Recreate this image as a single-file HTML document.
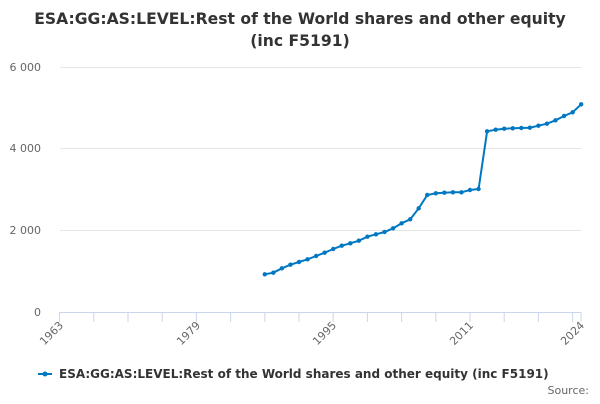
<!DOCTYPE html>
<html><head><meta charset="utf-8"><style>
body{margin:0;background:#fff;font-family:"DejaVu Sans","Liberation Sans",sans-serif;}
</style></head><body>
<svg width="600" height="400" xmlns="http://www.w3.org/2000/svg" font-family="DejaVu Sans, Liberation Sans, sans-serif">
<text x="300" y="24" text-anchor="middle" font-size="15.6" font-weight="bold" fill="#333">ESA:GG:AS:LEVEL:Rest of the World shares and other equity</text>
<text x="300" y="46" text-anchor="middle" font-size="15.6" font-weight="bold" fill="#333">(inc F5191)</text>
<g stroke="#e6e6e6" stroke-width="1">
<line x1="60" x2="581" y1="67.5" y2="67.5"/><line x1="60" x2="581" y1="148.5" y2="148.5"/><line x1="60" x2="581" y1="230.5" y2="230.5"/>
</g>
<line x1="60" x2="581" y1="312.5" y2="312.5" stroke="#ccd6eb"/>
<g id="ticks" stroke="#ccd6eb"></g>
<g font-size="11" fill="#666" text-anchor="end">
<text x="41" y="71">6 000</text><text x="41" y="152">4 000</text><text x="41" y="234">2 000</text><text x="41" y="316">0</text>
</g>
<g font-size="11" fill="#666" text-anchor="end">
<text transform="translate(64,326) rotate(-45)">1963</text>
<text transform="translate(201,326) rotate(-45)">1979</text>
<text transform="translate(337,326) rotate(-45)">1995</text>
<text transform="translate(474,326) rotate(-45)">2011</text>
<text transform="translate(585,326) rotate(-45)">2024</text>
</g>
<polyline id="ln" fill="none" stroke="#0077c2" stroke-width="2"/>
<g id="pts" fill="#0077c2"></g>
<line x1="38" x2="52" y1="374" y2="374" stroke="#0077c2" stroke-width="2"/>
<circle cx="45" cy="374" r="2.5" fill="#0077c2"/>
<text x="59" y="378" font-size="12" font-weight="bold" fill="#333">ESA:GG:AS:LEVEL:Rest of the World shares and other equity (inc F5191)</text>
<text x="589" y="394" font-size="11" fill="#666" text-anchor="end">Source:</text>
</svg>
<script>
var zy=[553,548,535,524,516,508,498,488,477,467,460,452,440,433,426,415,400,388,355,315,310,308,307,307,305,300,297,124,119,116,115,114,113,107,101,91,78,67,43];
zy.splice(24,1);
var pts=[],g=document.getElementById('pts'),ns="http://www.w3.org/2000/svg";
for(var i=0;i<zy.length;i++){var yr=1987+i;var x=59.6+(yr-1963)*8.55;var y=90+zy[i]/3;pts.push(x.toFixed(1)+","+y.toFixed(1));
var c=document.createElementNS(ns,'circle');c.setAttribute('cx',x);c.setAttribute('cy',y);c.setAttribute('r',2.2);g.appendChild(c);}
document.getElementById('ln').setAttribute('points',pts.join(' '));
var t=document.getElementById('ticks');
for(var yr=1963;yr<=2024;yr+=4){var x=59.6+(yr-1963)*8.55;var l=document.createElementNS(ns,'line');l.setAttribute('x1',x);l.setAttribute('x2',x);l.setAttribute('y1',312);l.setAttribute('y2',322);t.appendChild(l);}
var l=document.createElementNS(ns,'line');l.setAttribute('x1',581);l.setAttribute('x2',581);l.setAttribute('y1',312);l.setAttribute('y2',322);t.appendChild(l);
</script>
</body></html>
